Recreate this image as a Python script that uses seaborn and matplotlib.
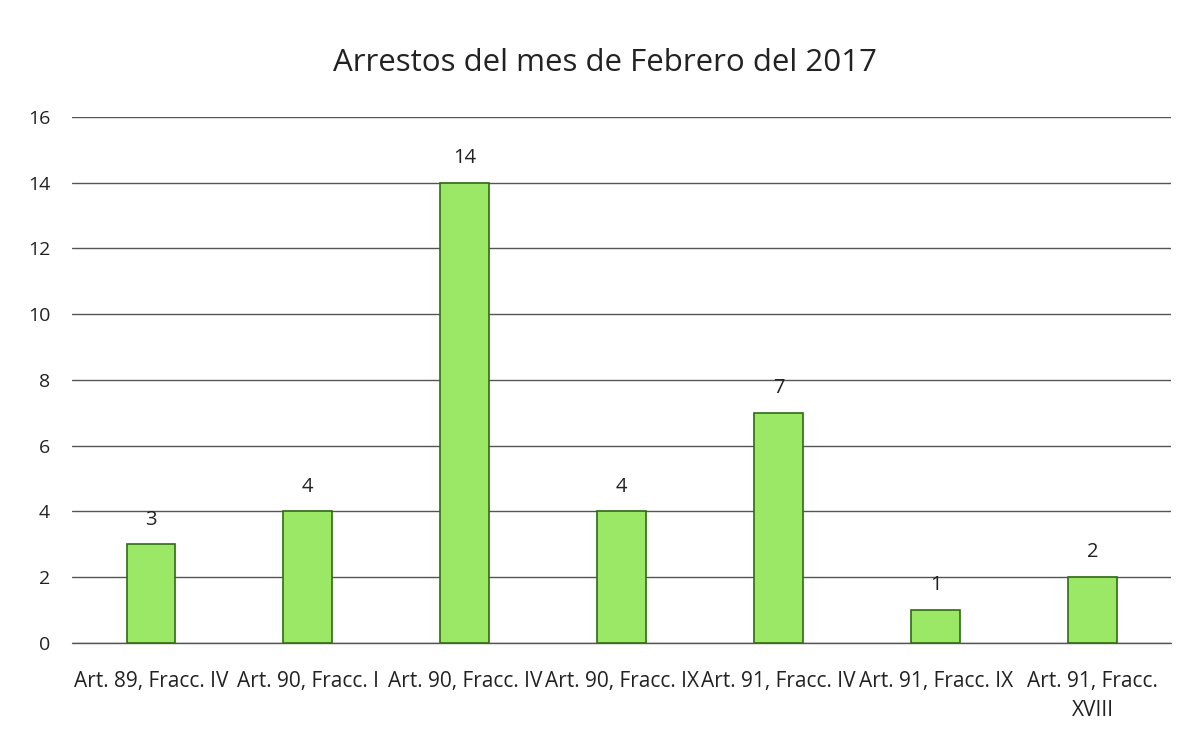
import matplotlib
matplotlib.use("Agg")
import matplotlib.pyplot as plt
import seaborn as sns
import pandas as pd

categorias = ["Art. 89, Fracc. IV", "Art. 90, Fracc. I", "Art. 90, Fracc. IV",
              "Art. 90, Fracc. IX", "Art. 91, Fracc. IV", "Art. 91, Fracc. IX",
              "Art. 91, Fracc.\nXVIII"]
arrestos = [3, 4, 14, 4, 7, 1, 2]
y_ticks = [0, 2, 4, 6, 8, 10, 12, 14, 16]

df = pd.DataFrame({"categoria": categorias, "arrestos": arrestos})

sns.set_style("white")
plt.rcParams["font.family"] = ["Open Sans", "DejaVu Sans"]

fig = plt.figure(figsize=(11.87, 7.33), dpi=100)
ax = fig.add_axes([0.061, 0.1228, 0.9255, 0.7176])

sns.barplot(data=df, x="categoria", y="arrestos", color="#9be866",
            edgecolor="#2f6b12", linewidth=1.2, width=0.31, saturation=1, ax=ax)

ax.set_ylim(0, 16)
ax.set_xlim(-0.5, 6.5)
ax.set_yticks(y_ticks)
ax.yaxis.grid(True, color="#555555", linewidth=1.0)
ax.axhline(0, color="#555555", linewidth=1.0, zorder=0, clip_on=False)
ax.set_axisbelow(True)
for s in ax.spines.values():
    s.set_visible(False)
ax.tick_params(axis="both", length=0, colors="#222222")
ax.tick_params(axis="y", labelsize=14, pad=16)
ax.tick_params(axis="x", labelsize=15, pad=20)
for lbl in ax.get_xticklabels():
    lbl.set_linespacing(1.5)
ax.set_xlabel("")
ax.set_ylabel("")

for i, v in enumerate(arrestos):
    ax.text(i, v + 0.45, str(v), ha="center", va="bottom", fontsize=14.5, color="#222222")

fig.suptitle("Arrestos del mes de Febrero del 2017", fontsize=22.5, y=0.935, x=0.51, color="#222222")

fig.savefig("out.png", dpi=100)
